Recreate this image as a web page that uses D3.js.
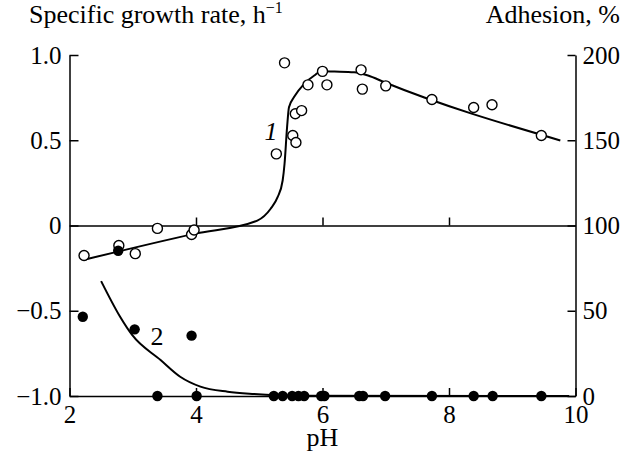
<!DOCTYPE html>
<html>
<head>
<meta charset="utf-8">
<script src="https://cdn.jsdelivr.net/npm/d3@7"></script>
<style>
  body { margin: 0; background: #fff; }
</style>
</head>
<body>
<script>
// Data: curve 1, specific growth rate (open circles, left axis)
const growthPH   = [2.23, 2.78, 3.04, 3.39, 3.93, 3.97, 5.27, 5.40, 5.53, 5.58, 5.57, 5.67, 5.77, 6.00, 6.07, 6.61, 6.63, 7.00, 7.73, 8.39, 8.68, 9.46];
const growthRate = [-0.176, -0.117, -0.165, -0.017, -0.053, -0.026, 0.42, 0.954, 0.528, 0.487, 0.655, 0.674, 0.825, 0.904, 0.825, 0.913, 0.80, 0.819, 0.739, 0.692, 0.708, 0.528];
const fit1PH   = [2.23, 3.97, 4.97, 5.18, 5.29, 5.37, 5.40, 5.44, 5.47, 5.55, 5.71, 5.87, 5.98, 6.19, 6.50, 6.72, 6.98, 9.76];
const fit1Rate = [-0.201, -0.049, 0.029, 0.098, 0.166, 0.264, 0.362, 0.577, 0.694, 0.753, 0.831, 0.880, 0.905, 0.903, 0.899, 0.880, 0.840, 0.499];

// Data: curve 2, adhesion (filled circles, right axis)
const adhesionPH = [2.21, 2.77, 3.03, 3.93, 3.39, 4.01, 5.23, 5.37, 5.52, 5.62, 5.71, 5.98, 6.03, 6.58, 6.64, 6.99, 7.73, 8.39, 8.69, 9.46];
const adhesion   = [46.5, 85.2, 39.1, 35.4, 0, 0, 0, 0, 0, 0, 0, 0, 0, 0, 0, 0, 0, 0, 0, 0];
const fit2PH       = [2.50, 2.80, 2.99, 3.44, 3.75, 4.07, 4.50, 4.92, 5.55, 9.90];
const fit2Adhesion = [67.4, 46.5, 35.8, 21.1, 11.3, 5.5, 2.5, 1.2, 0.2, 0];

// Ticks
const xTicks = [2, 4, 6, 8, 10];
const leftTicks = [-1, -0.5, 0, 0.5, 1];
const leftTickLabels = ["\u22121.0", "\u22120.5", "0", "0.5", "1.0"];
const rightTicks = [0, 50, 100, 150, 200];

const W = 630, H = 456;
const serif = "Liberation Serif";
const svg = d3.select("body").append("svg").attr("width", W).attr("height", H);

const x = d3.scaleLinear().domain([2, 10]).range([69.5, 575.5]);
const y = d3.scaleLinear().domain([-1, 1]).range([396, 55]);
const yR = d3.scaleLinear().domain([0, 200]).range([396, 55]);

const tickFs = 25;
const fs = 26;

// axes
const styleAxis = g => {
  g.attr("font-family", serif).attr("font-size", tickFs);
  g.selectAll("path, line").attr("stroke", "#000").attr("stroke-width", 1.5);
  g.selectAll("text").attr("fill", "#000");
};

svg.append("g")
  .attr("transform", `translate(${x(2)},0)`)
  .call(d3.axisLeft(y).tickValues(leftTicks).tickSize(-9).tickSizeOuter(0).tickPadding(8)
    .tickFormat((d, i) => leftTickLabels[i]))
  .call(styleAxis);

svg.append("g")
  .attr("transform", `translate(${x(10)},0)`)
  .call(d3.axisRight(yR).tickValues(rightTicks).tickSize(-8).tickSizeOuter(0).tickPadding(7))
  .call(styleAxis);

svg.append("g")
  .attr("transform", `translate(0,${y(-1)})`)
  .call(d3.axisBottom(x).tickValues(xTicks).tickSize(-8).tickSizeOuter(0).tickPadding(9))
  .call(styleAxis);

// zero line with ticks
svg.append("g")
  .attr("transform", `translate(0,${y(0)})`)
  .call(d3.axisTop(x).tickValues([4, 6, 8]).tickSize(8).tickSizeOuter(0).tickFormat(""))
  .call(styleAxis);

// curves
const line1 = d3.line().x(d => x(d[0])).y(d => y(d[1])).curve(d3.curveMonotoneX);
svg.append("path")
  .datum(fit1PH.map((p, i) => [p, fit1Rate[i]]))
  .attr("d", line1)
  .attr("fill", "none").attr("stroke", "#000").attr("stroke-width", 2);

const line2 = d3.line().x(d => x(d[0])).y(d => yR(d[1])).curve(d3.curveMonotoneX);
svg.append("path")
  .datum(fit2PH.map((p, i) => [p, fit2Adhesion[i]]))
  .attr("d", line2)
  .attr("fill", "none").attr("stroke", "#000").attr("stroke-width", 2);

// points
svg.append("g").selectAll("circle")
  .data(growthPH.map((p, i) => [p, growthRate[i]]))
  .join("circle")
  .attr("cx", d => x(d[0])).attr("cy", d => y(d[1])).attr("r", 5)
  .attr("fill", "#fff").attr("stroke", "#000").attr("stroke-width", 1.4);

svg.append("g").selectAll("circle")
  .data(adhesionPH.map((p, i) => [p, adhesion[i]]))
  .join("circle")
  .attr("cx", d => x(d[0])).attr("cy", d => yR(d[1])).attr("r", 5.2)
  .attr("fill", "#000");

// labels
const txt = (sx, sy, s, anchor) => svg.append("text")
  .attr("x", sx).attr("y", sy).attr("text-anchor", anchor || "start")
  .attr("font-family", serif).attr("font-size", fs).text(s);

const title = txt(29, 23, "Specific growth rate, h");
title.append("tspan").attr("dy", -10).attr("font-size", 16).text("\u22121");

txt(620, 23, "Adhesion, %", "end");
txt(x(6), 446, "pH", "middle");
txt(271, 140, "1", "middle").attr("font-style", "italic");
txt(157, 345, "2", "middle");
</script>
</body>
</html>
